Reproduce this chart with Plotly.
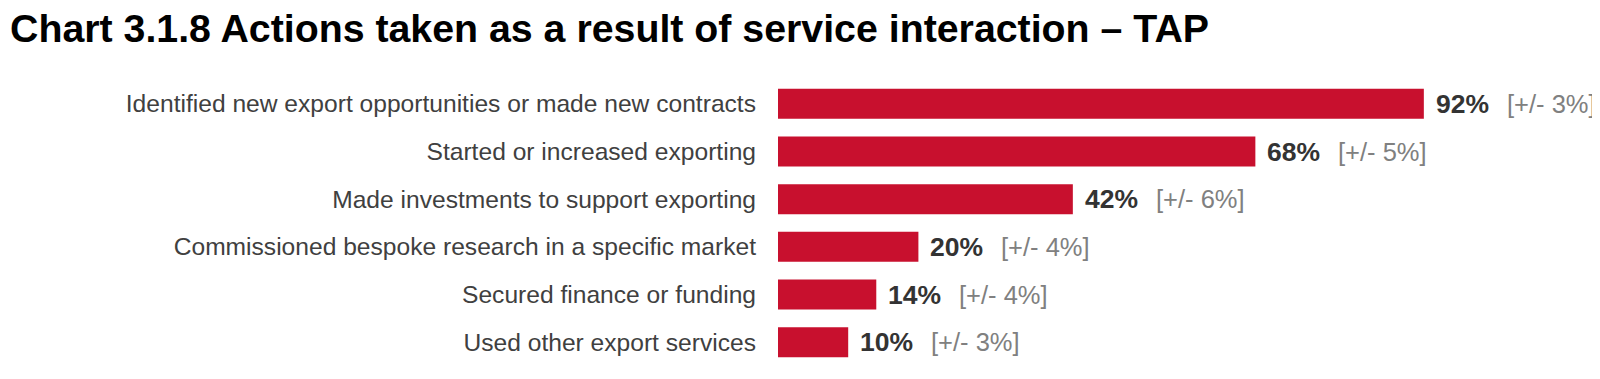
import plotly.graph_objects as go

categories = [
    "Identified new export opportunities or made new contracts",
    "Started or increased exporting",
    "Made investments to support exporting",
    "Commissioned bespoke research in a specific market",
    "Secured finance or funding",
    "Used other export services",
]
values = [92, 68, 42, 20, 14, 10]
margins = [3, 5, 6, 4, 4, 3]
value_labels = [f"{v}%" for v in values]
margin_labels = [f"[+/- {m}%]" for m in margins]

title_text = "Chart 3.1.8 Actions taken as a result of service interaction \u2013 TAP"

BAR_COLOR = "#C8102E"
FONT = "Liberation Sans, Arial, sans-serif"

# the page body has a default 8px margin; the figure is sized to fit inside it
W, H = 1592, 371

fig = go.Figure()
fig.add_trace(go.Bar(
    x=values,
    y=categories,
    orientation="h",
    marker=dict(color=BAR_COLOR, line=dict(width=0)),
    hoverinfo="skip",
))

annotations = []
for cat, v, vl, ml in zip(categories, values, value_labels, margin_labels):
    annotations.append(dict(
        x=v, y=cat, xref="x", yref="y", text=vl, showarrow=False,
        xanchor="left", yanchor="middle", xshift=10,
        font=dict(family=FONT, size=26.5, color="#333333", weight="bold"),
    ))
    annotations.append(dict(
        x=v, y=cat, xref="x", yref="y", text=ml, showarrow=False,
        xanchor="left", yanchor="middle", xshift=81,
        font=dict(family=FONT, size=25.5, color="#808080"),
    ))

fig.update_layout(
    width=W, height=H,
    margin=dict(l=770, r=120, t=72, b=13, pad=0),
    paper_bgcolor="white", plot_bgcolor="white",
    bargap=0.37,
    showlegend=False,
    title=dict(
        text=title_text, x=2 / W, xanchor="left", xref="container",
        y=1 - 6 / H, yanchor="top", yref="container",
        font=dict(family=FONT, size=39.3, color="#000000", weight="bold"),
    ),
    xaxis=dict(range=[0, 100], visible=False, showgrid=False, zeroline=False),
    yaxis=dict(
        autorange="reversed", showgrid=False, zeroline=False, showline=False,
        ticks="", ticklabelstandoff=21,
        tickfont=dict(family=FONT, size=24.6, color="#404040"),
    ),
    annotations=annotations,
)

fig.write_html("out.html")
